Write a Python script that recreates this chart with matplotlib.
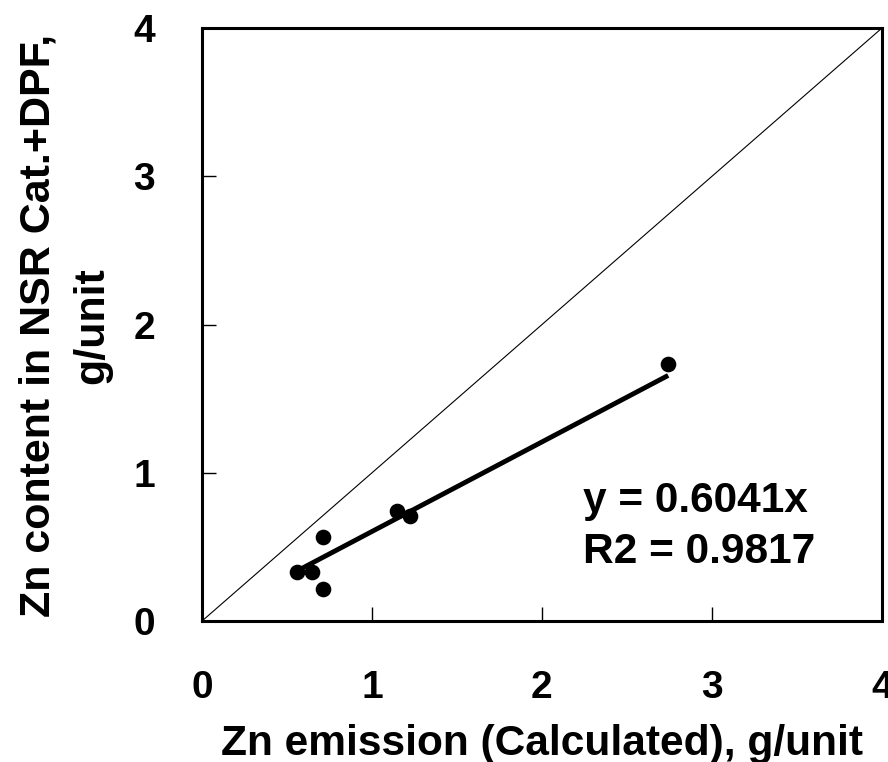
import matplotlib
matplotlib.use("Agg")
import matplotlib.pyplot as plt
import numpy as np

plt.rcParams['font.family'] = ['Liberation Sans', 'DejaVu Sans']
plt.rcParams['font.weight'] = 'bold'

# measured vs calculated Zn
x_calc = [0.557, 0.645, 0.714, 0.714, 1.145, 1.224, 2.743]
y_meas = [0.333, 0.333, 0.565, 0.216, 0.744, 0.708, 1.734]
slope = 0.6041
r2 = 0.9817
ticks = [0, 1, 2, 3, 4]

fig = plt.figure(figsize=(8.88, 7.62), dpi=100)
ax = fig.add_axes([0.2275, 0.185, 0.7655, 0.778])

ax.plot([0, 4], [0, 4], color='black', lw=0.8)
xf = np.array([min(x_calc), max(x_calc)])
ax.plot(xf, slope * xf, color='black', lw=3.5, solid_capstyle='butt')
ax.scatter(x_calc, y_meas, s=105, color='black', zorder=3)

ax.set_xlim(0, 4)
ax.set_ylim(0, 4)
ax.set_xticks(ticks)
ax.set_yticks(ticks)
ax.tick_params(direction='in', length=10, width=1, labelsize=28)
ax.tick_params(axis='x', pad=35)
ax.tick_params(axis='y', pad=34)
for s in ax.spines.values():
    s.set_linewidth(2.2)

ax.set_xlabel('Zn emission (Calculated), g/unit', fontsize=30.6, fontweight='bold', labelpad=13)
ax.set_ylabel('Zn content in NSR Cat.+DPF,\ng/unit', fontsize=31, fontweight='bold',
              labelpad=15, linespacing=1.45)
ax.yaxis.label.set_y(0.498)

ax.text(2.241, 0.735, 'y = %.4fx' % slope, fontsize=30.5, fontweight='bold',
        ha='left', va='baseline')
ax.text(2.241, 0.391, 'R2 = %.4f' % r2, fontsize=30.5, fontweight='bold',
        ha='left', va='baseline')

fig.savefig('out.png', dpi=100)
